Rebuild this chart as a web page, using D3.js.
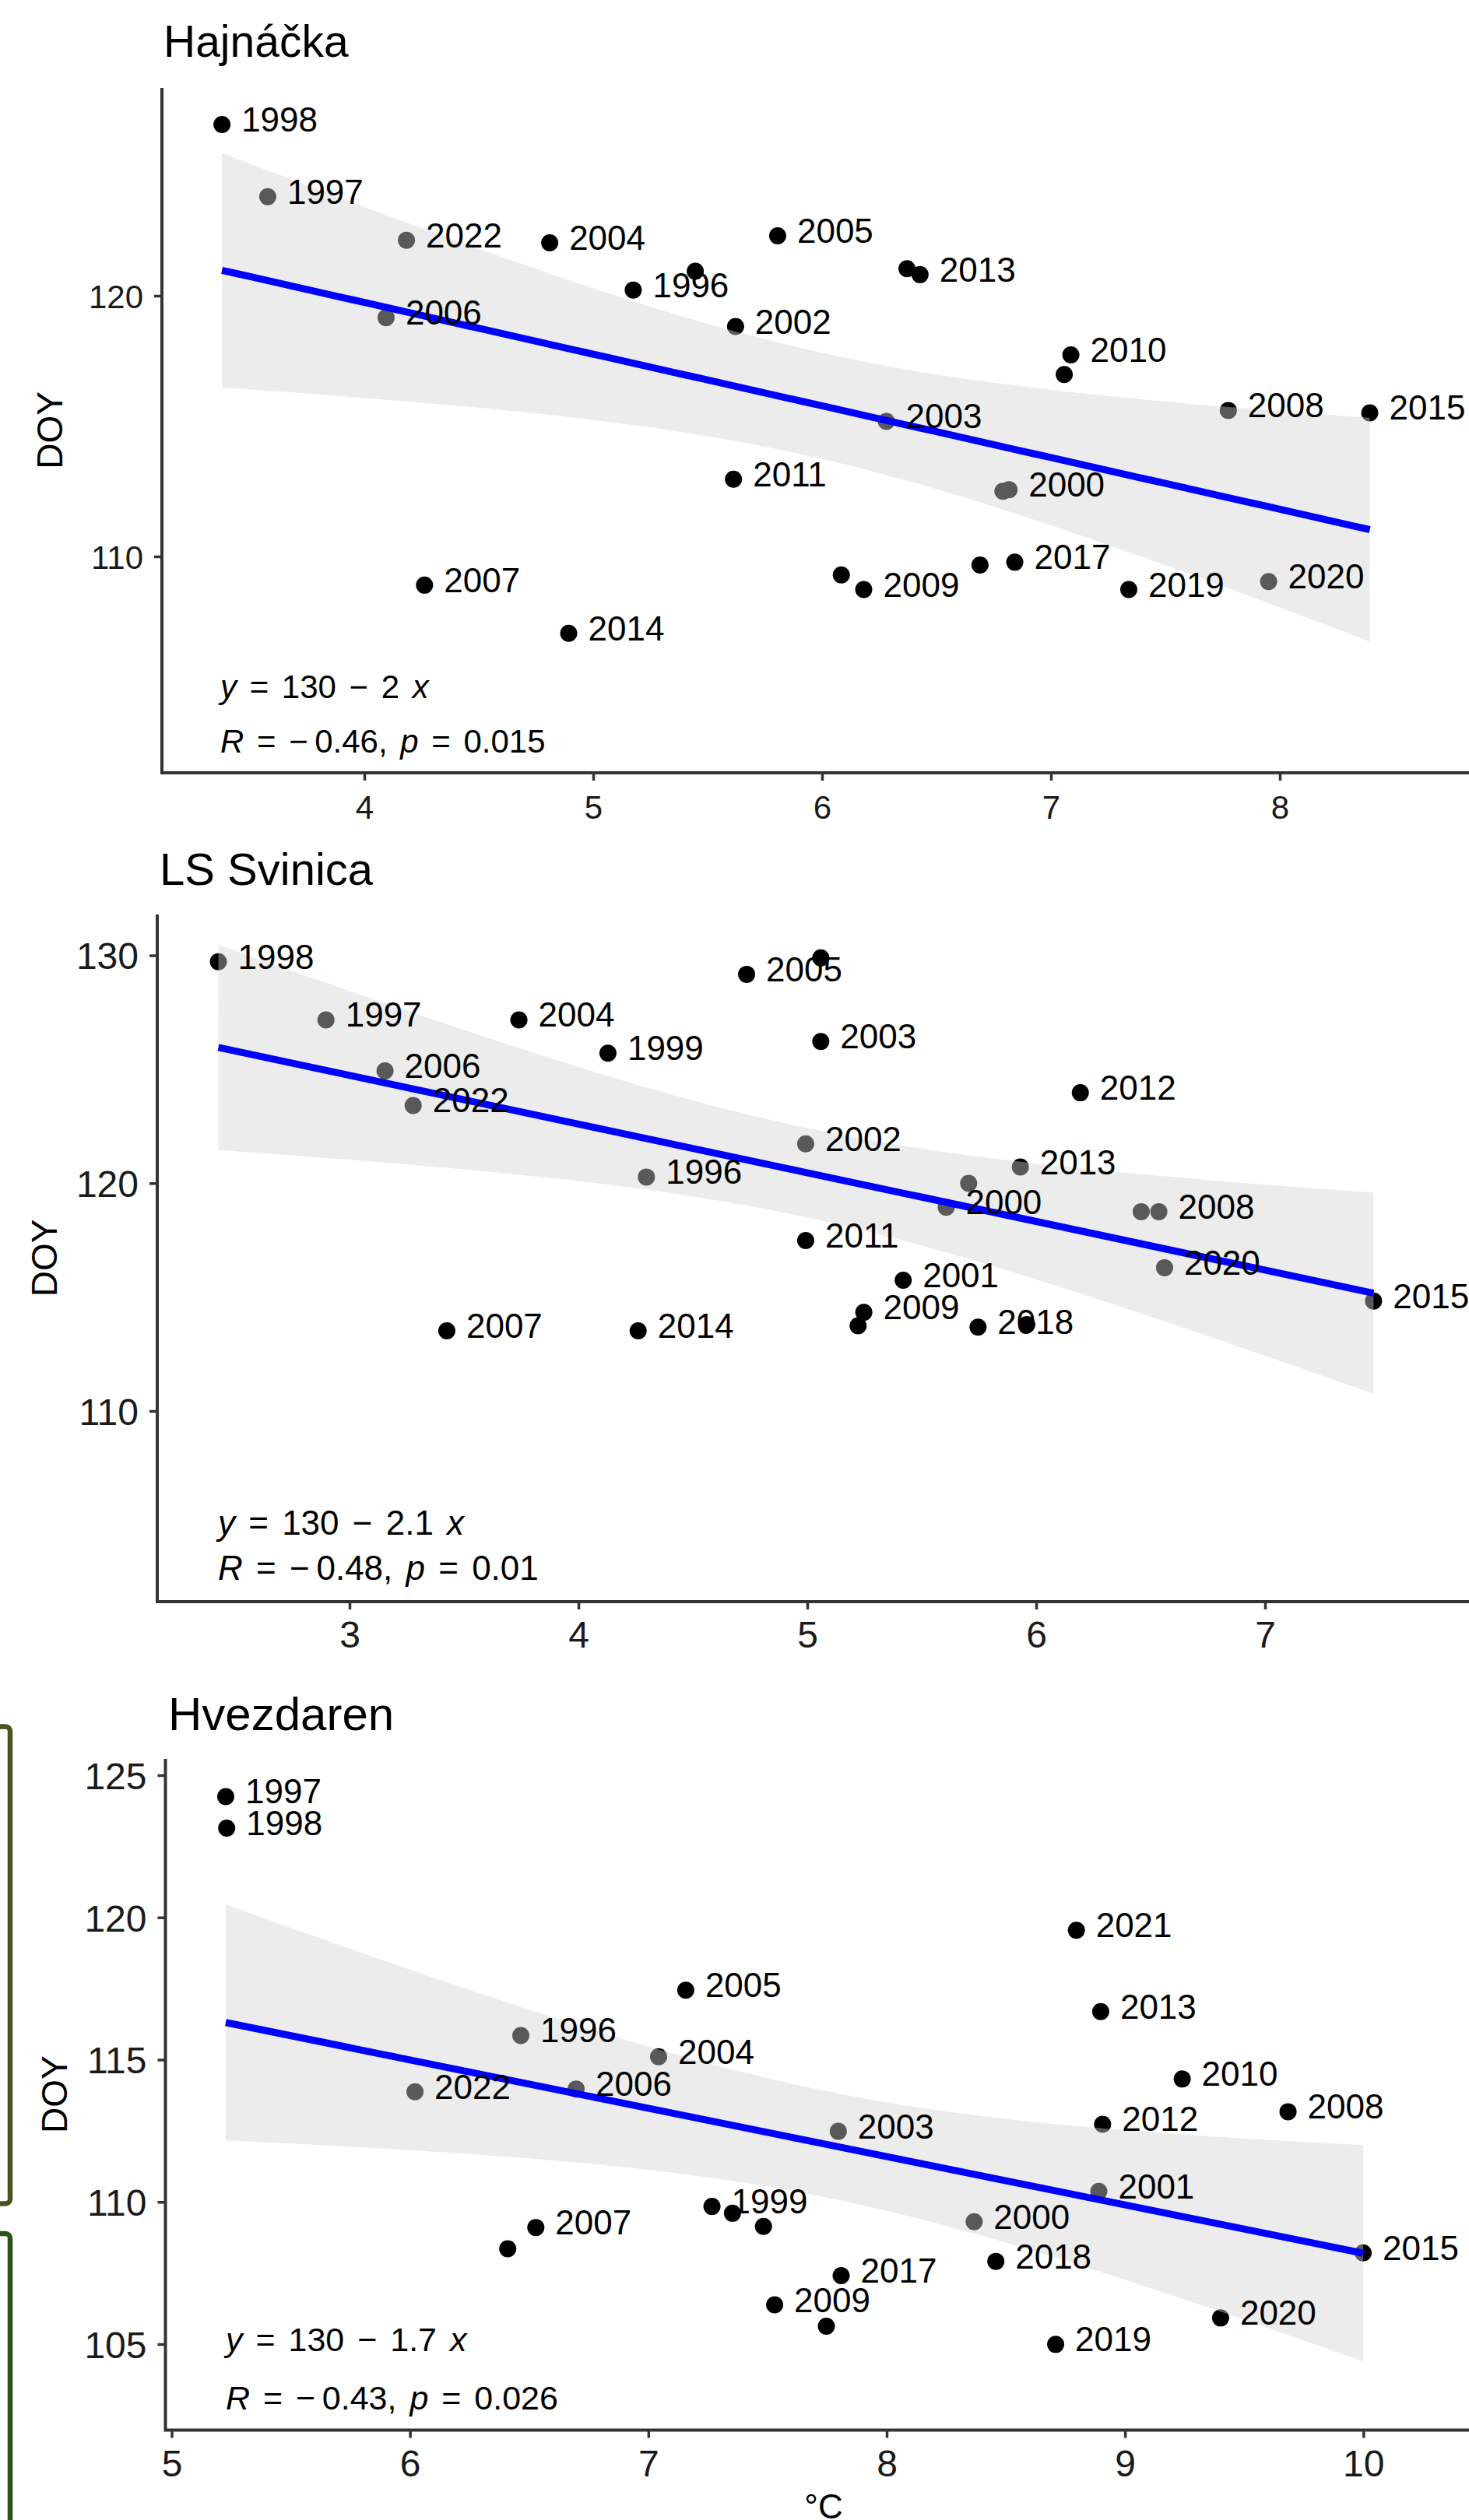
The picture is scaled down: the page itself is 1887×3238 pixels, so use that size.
<!DOCTYPE html>
<html>
<head>
<meta charset="utf-8">
<script src="https://cdn.jsdelivr.net/npm/d3@7"></script>
<style>
  body { margin: 0; background: #fff; }
  svg { display: block; font-family: "Liberation Sans", Arial, Helvetica, sans-serif; }
</style>
</head>
<body>
<svg id="chart" width="1887" height="3238"></svg>
<script>
// ---- data (mean temperature °C vs. day of year), one set per station ----
const years = d3.range(1996, 2023);

const hajTemp = [5.175, 3.578, 3.378, 6.084, 6.817, 6.790, 5.622, 6.281, 4.810, 5.806, 4.095, 4.263, 7.775, 6.182,
  7.087, 5.613, 6.371, 6.428, 4.893, 8.393, 7.058, 6.842, 6.690, 7.340, 7.951, 5.446, 4.184];
const hajDoy = [120.22, 123.80, 126.57, 109.29, 112.56, 112.50, 118.82, 115.18, 122.03, 122.30, 119.16, 108.90, 115.60, 108.73,
  117.73, 112.96, 121.04, 120.81, 107.05, 115.51, 116.98, 109.78, 109.67, 108.73, 109.04, 120.94, 122.13];
const hajHidden = [1999, 2001, 2012, 2016, 2018, 2021];

const svnTemp = [4.297, 2.897, 2.427, 4.129, 5.607, 5.419, 4.993, 5.059, 3.740, 4.735, 3.155, 3.425, 6.536, 5.247,
  5.059, 4.993, 6.193, 5.931, 4.261, 7.474, 5.705, 6.459, 5.746, 5.222, 6.561, 5.959, 3.278];
const svnDoy = [120.27, 127.17, 129.72, 125.71, 118.94, 115.74, 121.73, 126.22, 127.17, 129.17, 124.93, 113.52, 118.75, 114.33,
  129.89, 117.48, 123.97, 120.71, 113.52, 114.83, 119.99, 118.75, 113.68, 113.74, 116.29, 113.79, 123.41];
const svnHidden = [2010, 2016, 2017, 2019, 2021];

const hvzTemp = [6.465, 5.227, 5.231, 7.267, 8.367, 8.890, 7.353, 7.797, 7.043, 7.157, 6.697, 6.528, 9.684, 7.530,
  9.240, 7.483, 8.906, 8.898, 6.410, 9.999, 7.747, 7.809, 8.458, 8.709, 9.401, 8.796, 6.021];
const hvzDoy = [115.85, 124.25, 123.14, 109.84, 109.30, 110.37, 109.60, 112.48, 115.10, 117.44, 113.97, 109.10, 113.17, 106.38,
  114.32, 109.14, 112.73, 116.69, 108.35, 108.21, 105.63, 107.41, 107.91, 104.99, 105.92, 119.55, 113.87];
const hvzHidden = [2002, 2011, 2014, 2016];

const titles = ["Hajnáčka", "LS Svinica", "Hvezdaren"];
const eqSlope = ["130 − 2", "130 − 2.1", "130 − 1.7"];
const eqR = ["−\u20090.46", "−\u20090.48", "−\u20090.43"];
const eqP = ["0.015", "0.01", "0.026"];
const xTicks = [[4, 5, 6, 7, 8], [3, 4, 5, 6, 7], [5, 6, 7, 8, 9, 10]];
const yTicks = [[110, 120], [110, 120, 130], [105, 110, 115, 120, 125]];

// ---- layout ----
const W = 1887;
const svg = d3.select("#chart");

const panels = [
  { temp: hajTemp, doy: hajDoy, hidden: hajHidden,
    xRef: [4, 8, 468, 1644], yRef: [110, 120, 715, 380],
    left: 208, top: 113, bottom: 993, titleX: 210, titleY: 73, titleSize: 57,
    doyX: 63, tickSize: 42, labelSize: 44, eqSize: 42, eqX: 283, eqY: [897, 967] },
  { temp: svnTemp, doy: svnDoy, hidden: svnHidden,
    xRef: [3, 7, 449, 1625], yRef: [110, 130, 1813, 1227.6],
    left: 202, top: 1175, bottom: 2058, titleX: 205, titleY: 1137, titleSize: 58,
    doyX: 56, tickSize: 48, labelSize: 44, eqSize: 44, eqX: 280, eqY: [1972, 2030] },
  { temp: hvzTemp, doy: hvzDoy, hidden: hvzHidden,
    xRef: [5, 10, 220.5, 1751.3], yRef: [105, 125, 3012, 2281],
    left: 212.5, top: 2260, bottom: 3122.5, titleX: 216, titleY: 2223, titleSize: 60,
    doyX: 69, tickSize: 48, labelSize: 44, eqSize: 43, eqX: 290, eqY: [3021, 3096] }
];

// partial frames cut at the left edge
svg.append("rect").attr("x", -40).attr("y", 2218.5).attr("width", 53).attr("height", 613)
  .attr("rx", 6).attr("fill", "none").attr("stroke", "#4b521f").attr("stroke-width", 6.5);
svg.append("rect").attr("x", -40).attr("y", 2870).attr("width", 53).attr("height", 500)
  .attr("rx", 6).attr("fill", "none").attr("stroke", "#2c5117").attr("stroke-width", 6.5);

function drawPanel(p, k) {
  const g = svg.append("g");
  const x = d3.scaleLinear().domain([p.xRef[0], p.xRef[1]]).range([p.xRef[2], p.xRef[3]]);
  const y = d3.scaleLinear().domain([p.yRef[0], p.yRef[1]]).range([p.yRef[2], p.yRef[3]]);
  const pts = years.map((yr, i) => ({ year: yr, t: p.temp[i], d: p.doy[i] }));

  // linear fit with 95% confidence band, as geom_smooth(method = "lm")
  const n = pts.length;
  const mx = d3.mean(pts, d => d.t), my = d3.mean(pts, d => d.d);
  const sxx = d3.sum(pts, d => (d.t - mx) ** 2);
  const b = d3.sum(pts, d => (d.t - mx) * (d.d - my)) / sxx;
  const a = my - b * mx;
  const se = Math.sqrt(d3.sum(pts, d => (d.d - a - b * d.t) ** 2) / (n - 2));
  const tq = 2.0595; // t quantile 0.975, 25 df
  const [x0, x1] = d3.extent(pts, d => d.t);
  const band = d3.range(80).map(i => {
    const v = x0 + (x1 - x0) * i / 79;
    const h = tq * se * Math.sqrt(1 / n + (v - mx) ** 2 / sxx);
    return { v, f: a + b * v, lo: a + b * v - h, hi: a + b * v + h };
  });

  // points first; the ribbon lies over them and greys them
  g.append("g").selectAll("circle").data(pts).join("circle")
    .attr("cx", d => x(d.t)).attr("cy", d => y(d.d)).attr("r", 11).attr("fill", "#000");

  g.append("path").datum(band)
    .attr("d", d3.area().x(d => x(d.v)).y0(d => y(d.lo)).y1(d => y(d.hi)))
    .attr("fill", "rgb(210,210,210)").attr("fill-opacity", 0.4235);

  g.append("path").datum(band)
    .attr("d", d3.line().x(d => x(d.v)).y(d => y(d.f)))
    .attr("fill", "none").attr("stroke", "#0000ff").attr("stroke-width", 9);

  g.append("g").selectAll("text").data(pts.filter(d => !p.hidden.includes(d.year))).join("text")
    .attr("x", d => x(d.t) + 25).attr("y", d => y(d.d) + 9)
    .attr("font-size", p.labelSize).attr("fill", "#000")
    .text(d => d.year);

  // equation + correlation
  const eq = g.append("g").attr("font-size", p.eqSize).attr("fill", "#000").attr("word-spacing", 5);
  const e1 = eq.append("text").attr("x", p.eqX).attr("y", p.eqY[0]);
  e1.append("tspan").attr("font-style", "italic").text("y");
  e1.append("tspan").text(" = " + eqSlope[k] + " ");
  e1.append("tspan").attr("font-style", "italic").text("x");
  const e2 = eq.append("text").attr("x", p.eqX).attr("y", p.eqY[1]);
  e2.append("tspan").attr("font-style", "italic").text("R");
  e2.append("tspan").text(" = " + eqR[k] + ", ");
  e2.append("tspan").attr("font-style", "italic").text("p");
  e2.append("tspan").text(" = " + eqP[k]);

  // axes
  const xa = g.append("g").attr("transform", `translate(0,${p.bottom})`)
    .call(d3.axisBottom(x).tickValues(xTicks[k]).tickSize(10).tickFormat(d3.format("d")));
  const ya = g.append("g").attr("transform", `translate(${p.left},0)`)
    .call(d3.axisLeft(y).tickValues(yTicks[k]).tickSize(10).tickPadding(14).tickFormat(d3.format("d")));
  [xa, ya].forEach(ax => {
    ax.select(".domain").remove();
    ax.selectAll(".tick line").attr("stroke", "#333").attr("stroke-width", 3.5);
    ax.selectAll(".tick text").attr("fill", "#1a1a1a").attr("font-size", p.tickSize)
      .attr("font-family", null);
  });
  xa.selectAll(".tick text").attr("y", 59).attr("dy", null);
  ya.selectAll(".tick text").attr("dy", "0.36em");

  g.append("path")
    .attr("d", `M${p.left},${p.top}V${p.bottom}H${W + 10}`)
    .attr("fill", "none").attr("stroke", "#333").attr("stroke-width", 4);

  g.append("text").attr("x", p.titleX).attr("y", p.titleY)
    .attr("font-size", p.titleSize).attr("fill", "#000").text(titles[k]);

  g.append("text")
    .attr("transform", `translate(${p.doyX},${(p.top + p.bottom) / 2}) rotate(-90)`)
    .attr("text-anchor", "middle").attr("dy", "0.36em")
    .attr("font-size", 46).attr("fill", "#000").text("DOY");
}

panels.forEach(drawPanel);

svg.append("text").attr("x", 1058).attr("y", 3236).attr("text-anchor", "middle")
  .attr("font-size", 44).attr("fill", "#000").text("°C");
</script>
</body>
</html>
